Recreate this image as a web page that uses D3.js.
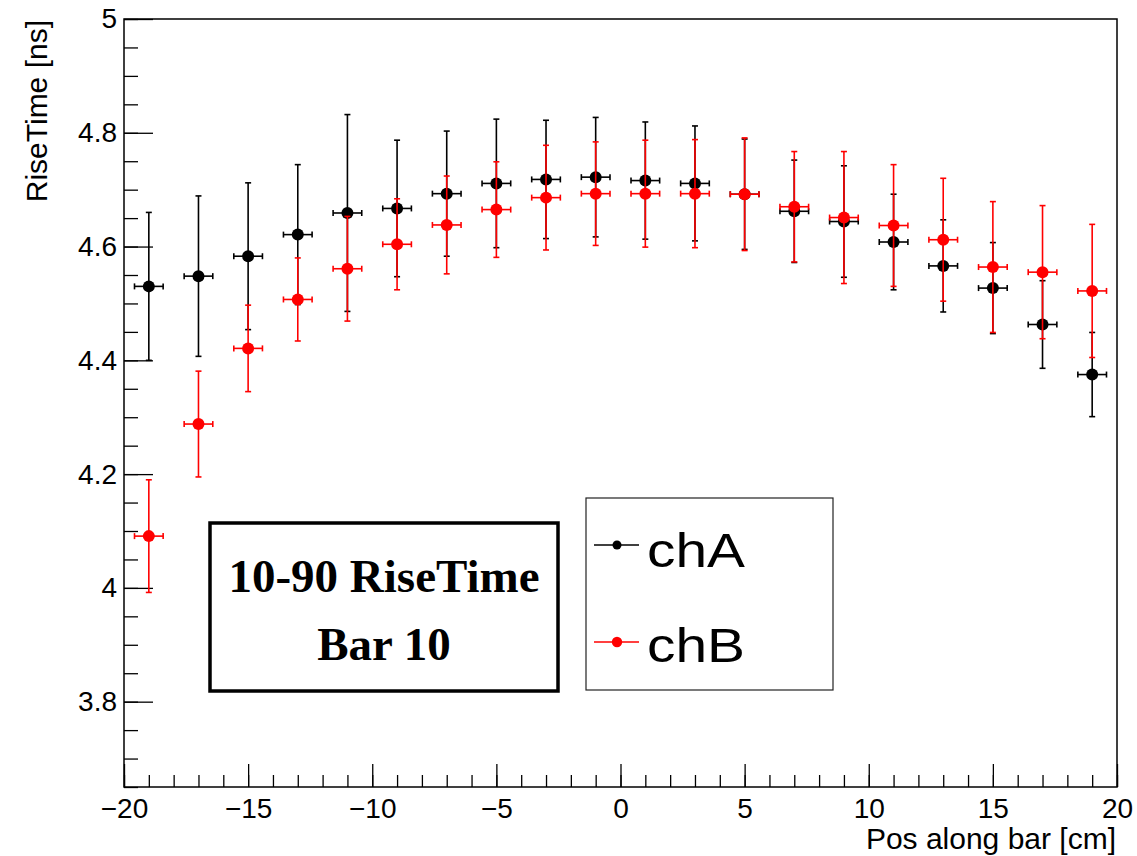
<!DOCTYPE html>
<html>
<head>
<meta charset="utf-8">
<script src="https://cdn.jsdelivr.net/npm/d3@7"></script>
<style>
  html, body { margin: 0; padding: 0; background: #fff; }
  svg { display: block; }
  .ax text { font-family: "Liberation Sans", Arial, Helvetica, sans-serif; font-size: 28px; fill: #000; }
  .ax line { stroke: #000; stroke-width: 1.3; }
  .ax path { display: none; }
</style>
</head>
<body>
<svg id="chart" width="1137" height="856"></svg>
<script>
// ---- data ----
const positions = [-19, -17, -15, -13, -11, -9, -7, -5, -3, -1, 1, 3, 5, 7, 9, 11, 13, 15, 17, 19];
const chA      = [4.530, 4.548, 4.583, 4.621, 4.659, 4.667, 4.693, 4.711, 4.718, 4.722,
                  4.716, 4.711, 4.692, 4.662, 4.644, 4.608, 4.566, 4.527, 4.463, 4.375];
const chAErr   = [0.130, 0.141, 0.129, 0.123, 0.173, 0.120, 0.110, 0.113, 0.104, 0.105,
                  0.103, 0.101, 0.097, 0.090, 0.098, 0.084, 0.081, 0.080, 0.077, 0.074];
const chB      = [4.091, 4.288, 4.421, 4.507, 4.561, 4.604, 4.638, 4.665, 4.686, 4.693,
                  4.693, 4.693, 4.692, 4.670, 4.651, 4.637, 4.612, 4.564, 4.555, 4.522];
const chBErr   = [0.099, 0.093, 0.076, 0.073, 0.092, 0.080, 0.086, 0.084, 0.092, 0.091,
                  0.094, 0.095, 0.099, 0.097, 0.116, 0.107, 0.108, 0.115, 0.117, 0.117];
const xErr = 0.577;
const xTicks = [-20, -15, -10, -5, 0, 5, 10, 15, 20];
const yTicks = [3.8, 4.0, 4.2, 4.4, 4.6, 4.8, 5.0];
const seriesNames = ["chA", "chB"];
const seriesColors = ["#000000", "#ff0000"];
const xTitle = "Pos along bar [cm]";
const yTitle = "RiseTime [ns]";
const boxLines = ["10-90 RiseTime", "Bar 10"];

// ---- layout ----
const L = 124, R = 1117, T = 19, B = 787;
const svg = d3.select("#chart");
const x = d3.scaleLinear().domain([-20, 20]).range([L, R]);
const y = d3.scaleLinear().domain([3.65, 5]).range([B, T]);

const fmt = v => (v < 0 ? "\u2212" : "") + d3.format("~g")(Math.abs(v));

// minor x ticks
svg.append("g").attr("class", "ax").attr("transform", `translate(0,${B})`)
  .call(d3.axisBottom(x).tickValues(d3.range(-20, 21, 1)).tickSize(-12).tickFormat(""));
// major x ticks
svg.append("g").attr("class", "ax").attr("transform", `translate(0,${B})`)
  .call(d3.axisBottom(x).tickValues(xTicks).tickSize(-23).tickPadding(11).tickFormat(fmt));

// minor y ticks
svg.append("g").attr("class", "ax").attr("transform", `translate(${L},0)`)
  .call(d3.axisLeft(y).tickValues(d3.range(3.65, 5.001, 0.05)).tickSize(-14).tickFormat(""));
// major y ticks
svg.append("g").attr("class", "ax").attr("transform", `translate(${L},0)`)
  .call(d3.axisLeft(y).tickValues(yTicks).tickSize(-29).tickPadding(7).tickFormat(fmt));

// frame
svg.append("rect").attr("x", L).attr("y", T).attr("width", R - L).attr("height", B - T)
  .attr("fill", "none").attr("stroke", "#000").attr("stroke-width", 1.5);

// axis titles
svg.append("text").attr("x", 1116).attr("y", 849).attr("text-anchor", "end")
  .attr("font-family", "Liberation Sans, Arial, sans-serif").attr("font-size", 30).text(xTitle);
svg.append("text").attr("transform", "translate(47,20) rotate(-90)").attr("text-anchor", "end")
  .attr("font-family", "Liberation Sans, Arial, sans-serif").attr("font-size", 30).text(yTitle);

// ---- data series ----
function drawSeries(vals, errs, color) {
  const g = svg.append("g");
  const data = positions.map((p, i) => ({ p, v: vals[i], e: errs[i] }));
  const cap = 3;
  const pts = g.selectAll("g.pt").data(data).enter().append("g").attr("class", "pt")
    .attr("stroke", color).attr("stroke-width", 1.6);
  // vertical error
  pts.append("line").attr("x1", d => x(d.p)).attr("x2", d => x(d.p))
    .attr("y1", d => y(d.v - d.e)).attr("y2", d => y(d.v + d.e));
  pts.append("line").attr("x1", d => x(d.p) - cap).attr("x2", d => x(d.p) + cap)
    .attr("y1", d => y(d.v + d.e)).attr("y2", d => y(d.v + d.e));
  pts.append("line").attr("x1", d => x(d.p) - cap).attr("x2", d => x(d.p) + cap)
    .attr("y1", d => y(d.v - d.e)).attr("y2", d => y(d.v - d.e));
  // horizontal error
  pts.append("line").attr("x1", d => x(d.p - xErr)).attr("x2", d => x(d.p + xErr))
    .attr("y1", d => y(d.v)).attr("y2", d => y(d.v));
  pts.append("line").attr("x1", d => x(d.p - xErr)).attr("x2", d => x(d.p - xErr))
    .attr("y1", d => y(d.v) - cap).attr("y2", d => y(d.v) + cap);
  pts.append("line").attr("x1", d => x(d.p + xErr)).attr("x2", d => x(d.p + xErr))
    .attr("y1", d => y(d.v) - cap).attr("y2", d => y(d.v) + cap);
  // marker
  pts.append("circle").attr("cx", d => x(d.p)).attr("cy", d => y(d.v)).attr("r", 6)
    .attr("fill", color).attr("stroke", "none");
}
drawSeries(chA, chAErr, seriesColors[0]);
drawSeries(chB, chBErr, seriesColors[1]);

// ---- text box ----
svg.append("rect").attr("x", 210).attr("y", 523).attr("width", 348).attr("height", 168)
  .attr("fill", "#fff").attr("stroke", "#000").attr("stroke-width", 3.5);
boxLines.forEach((t, i) => {
  svg.append("text").attr("x", 384).attr("y", i === 0 ? 592 : 660).attr("text-anchor", "middle")
    .attr("font-family", "Liberation Serif, Times New Roman, serif").attr("font-weight", "bold")
    .attr("font-size", 47).text(t);
});

// ---- legend ----
svg.append("rect").attr("x", 586).attr("y", 498).attr("width", 247).attr("height", 192)
  .attr("fill", "#fff").attr("stroke", "#222").attr("stroke-width", 1.2);
const legY = [545, 642];
const legBase = [567, 662];
seriesNames.forEach((n, i) => {
  svg.append("line").attr("x1", 594).attr("x2", 639).attr("y1", legY[i]).attr("y2", legY[i])
    .attr("stroke", seriesColors[i]).attr("stroke-width", 1.5);
  svg.append("circle").attr("cx", 617).attr("cy", legY[i]).attr("r", i === 0 ? 4.5 : 5.2)
    .attr("fill", seriesColors[i]);
  svg.append("text").attr("x", 647).attr("y", legBase[i])
    .attr("font-family", "Liberation Sans, Arial, sans-serif").attr("font-size", 48)
    .attr("textLength", 98).attr("lengthAdjust", "spacingAndGlyphs").text(n);
});
</script>
</body>
</html>
